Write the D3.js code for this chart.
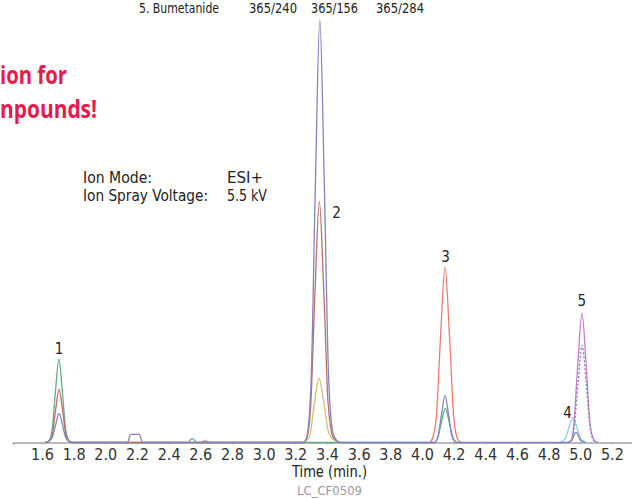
<!DOCTYPE html>
<html>
<head>
<meta charset="utf-8">
<script src="https://cdn.jsdelivr.net/npm/d3@7"></script>
<style>
  body { margin: 0; background: #fff; }
  svg { display: block; }
  text { font-family: "Liberation Sans Narrow", "DejaVu Sans Condensed", "Roboto", sans-serif; }
</style>
</head>
<body>
<div id="chart-area"></div>
<script>
// time (min) / relative intensity pairs
var blueTrace = [
  [1.62, 0], [1.64, 0.2], [1.665, 1.2], [1.687, 4.3], [1.708, 6.9], [1.729, 4.3], [1.75, 1.2], [1.78, 0.1], [1.8, 0],
  [2.14, 0], [2.16, 1.9], [2.215, 1.9], [2.235, 0],
  [2.6, 0], [2.63, 0.4], [2.66, 0],
  [3.25, 0], [3.271, 1.1], [3.299, 13.5], [3.327, 61], [3.355, 100], [3.383, 62], [3.411, 15], [3.44, 2], [3.48, 0],
  [4.08, 0], [4.102, 1.5], [4.124, 6.7], [4.146, 11.1], [4.168, 6.7], [4.19, 1.5], [4.215, 0],
  [4.92, 0], [4.945, 0.6], [4.975, 2.4], [5.0, 0.6], [5.03, 0]
];
var brownTrace = [
  [1.62, 0], [1.641, 0.2], [1.664, 1.7], [1.686, 7.7], [1.708, 12.6], [1.73, 7.7], [1.752, 1.7], [1.78, 0.1], [1.8, 0],
  [3.25, 0], [3.27, 0.7], [3.296, 7.7], [3.324, 35], [3.352, 57], [3.38, 36], [3.408, 9], [3.44, 1.2], [3.48, 0]
];
var salmonTrace = [
  [4.05, 0], [4.062, 0.5], [4.09, 5.6], [4.118, 25.3], [4.146, 41.5], [4.174, 25.3], [4.202, 5.6], [4.23, 0.5], [4.25, 0]
];
var greenTrace = [
  [1.62, 0], [1.641, 0.3], [1.663, 2.7], [1.685, 12], [1.707, 19.7], [1.729, 12], [1.751, 2.7], [1.775, 0.3], [1.8, 0],
  [2.52, 0], [2.548, 0.9], [2.58, 0],
  [4.08, 0], [4.1, 1.1], [4.124, 4.9], [4.148, 8.1], [4.172, 4.9], [4.196, 1.1], [4.22, 0]
];
var yellowTrace = [
  [3.25, 0], [3.29, 1.3], [3.32, 9.2], [3.35, 15.2], [3.38, 9.5], [3.41, 2.5], [3.45, 0.5], [3.5, 0]
];
var cyanTrace = [
  [4.87, 0], [4.904, 0.8], [4.929, 3.6], [4.954, 5.9], [4.979, 3.6], [5.004, 0.8], [5.04, 0]
];
var magentaTrace = [
  [4.92, 0], [4.943, 0.4], [4.959, 4.1], [4.985, 18.7], [5.011, 30.6], [5.037, 18.7], [5.063, 4.1], [5.09, 0.4], [5.11, 0]
];
var dashedTrace = [
  [4.92, 0], [4.944, 0.3], [4.96, 3.1], [4.986, 14], [5.012, 23], [5.038, 14], [5.064, 3.1], [5.09, 0.3], [5.11, 0]
];

var traces = [
  { pts: greenTrace,   color: "#63ad84", dash: null },
  { pts: yellowTrace,  color: "#cbc476", dash: null },
  { pts: salmonTrace,  color: "#f07b6c", dash: null },
  { pts: brownTrace,   color: "#bd6f63", dash: null },
  { pts: cyanTrace,    color: "#8fd0e6", dash: null },
  { pts: blueTrace,    color: "#8383c4", dash: null },
  { pts: magentaTrace, color: "#c77bcb", dash: null },
  { pts: dashedTrace,  color: "#7c83b6", dash: "2,2" }
];

var tickValues = [1.6, 1.8, 2.0, 2.2, 2.4, 2.6, 2.8, 3.0, 3.2, 3.4, 3.6, 3.8, 4.0, 4.2, 4.4, 4.6, 4.8, 5.0, 5.2];

var peakNames = ["1", "2", "3", "4", "5"];
var peakTimes = [1.708, 3.46, 4.15, 4.92, 5.01];
var peakHeights = [20.9, 53.1, 42.7, 5.8, 32.3];

var width = 632, height = 498;

var svg = d3.select("#chart-area")
  .append("svg")
    .attr("width", width)
    .attr("height", height);

// X Scale
var x = d3.scaleLinear()
  .domain([1.417, 5.327])
  .range([13, 632]);

// Y Scale
var y = d3.scaleLinear()
  .domain([0, 100])
  .range([442.5, 20]);

// header line (cut off at the top in the original too)
var header = [["5. Bumetanide", 139, 80], ["365/240", 249, 48], ["365/156", 311, 47], ["365/284", 376, 48]];
header.forEach(function(h) {
  svg.append("text")
    .attr("x", h[1])
    .attr("y", 13)
    .attr("font-size", "14.5px")
    .attr("fill", "#222")
    .attr("textLength", h[2])
    .attr("lengthAdjust", "spacingAndGlyphs")
    .text(h[0]);
});

// red headline (partly outside the picture)
svg.append("text")
  .attr("x", 0).attr("y", 84)
  .attr("font-size", "25px").attr("font-weight", "bold")
  .attr("fill", "#e8194c")
  .style("font-family", "'Open Sans', sans-serif")
  .attr("textLength", 67).attr("lengthAdjust", "spacingAndGlyphs")
  .text("ion for");
svg.append("text")
  .attr("x", 0).attr("y", 118)
  .attr("font-size", "25px").attr("font-weight", "bold")
  .attr("fill", "#e8194c")
  .style("font-family", "'Open Sans', sans-serif")
  .attr("textLength", 97).attr("lengthAdjust", "spacingAndGlyphs")
  .text("npounds!");

// instrument settings
var settings = [["Ion Mode:", 83, 183, 69], ["Ion Spray Voltage:", 83, 201, 125], ["ESI+", 227, 183, 36], ["5.5 kV", 227, 201, 40]];
settings.forEach(function(s) {
  svg.append("text")
    .attr("x", s[1]).attr("y", s[2])
    .attr("font-size", "16px")
    .attr("fill", "#222")
    .attr("textLength", s[3])
    .attr("lengthAdjust", "spacingAndGlyphs")
    .text(s[0]);
});

// X Axis
var xAxisCall = d3.axisBottom(x)
  .tickValues(tickValues)
  .tickSize(2)
  .tickPadding(4)
  .tickFormat(d3.format(".1f"));

var xAxisGroup = svg.append("g")
  .attr("class", "x axis")
  .attr("transform", "translate(0," + y(0) + ")")
  .call(xAxisCall);

xAxisGroup.select(".domain").attr("stroke", "#777").attr("stroke-width", 1.2);
xAxisGroup.selectAll(".tick line").attr("stroke", "#aaa");
xAxisGroup.selectAll(".tick text")
  .attr("font-size", "16px")
  .attr("fill", "#333")
  .style("font-family", "'Liberation Sans Narrow', 'DejaVu Sans Condensed', sans-serif");

// X Label
svg.append("text")
  .attr("x", 292).attr("y", 477)
  .attr("font-size", "16px")
  .attr("fill", "#222")
  .attr("textLength", 75).attr("lengthAdjust", "spacingAndGlyphs")
  .text("Time (min.)");

svg.append("text")
  .attr("x", 297).attr("y", 495)
  .attr("font-size", "13px")
  .attr("fill", "#999")
  .attr("textLength", 65).attr("lengthAdjust", "spacingAndGlyphs")
  .text("LC_CF0509");

// traces
var line = d3.line()
  .x(function(d) { return x(d[0]); })
  .y(function(d) { return y(d[1]); })
  .curve(d3.curveMonotoneX);

traces.forEach(function(t) {
  svg.append("path")
    .datum(t.pts)
    .attr("d", line)
    .attr("fill", "none")
    .attr("stroke", t.color)
    .attr("stroke-width", 1.3)
    .attr("stroke-dasharray", t.dash);
});

// peak numbers
svg.selectAll(".peak-label")
  .data(peakNames)
  .enter().append("text")
    .attr("class", "peak-label")
    .attr("x", function(d, i) { return x(peakTimes[i]); })
    .attr("y", function(d, i) { return y(peakHeights[i]); })
    .attr("text-anchor", "middle")
    .attr("font-size", "15px")
    .attr("fill", "#222")
    .text(function(d) { return d; });
</script>
</body>
</html>
